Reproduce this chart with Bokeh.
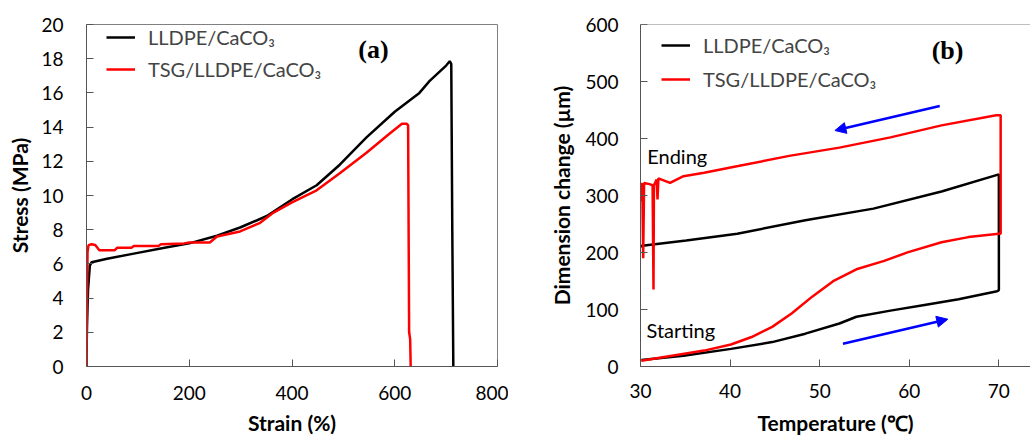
from bokeh.plotting import figure
from bokeh.layouts import row
from bokeh.models import (Legend, LegendItem, Label, Span, Arrow, NormalHead, Range1d)
from bokeh.embed import file_html
from bokeh.resources import INLINE

# ---------------- Panel (a): tensile curves ----------------
strain_lldpe = [0, 0, 1, 3, 6.5, 10, 40, 92, 157, 200, 254, 299, 351, 400, 448,
                493, 545, 600, 648, 668, 700, 707, 710, 712, 714]
stress_lldpe = [0, 0.6, 2.45, 4.5, 5.9, 6.1, 6.3, 6.6, 6.97, 7.2, 7.65, 8.13, 8.8,
                9.77, 10.6, 11.8, 13.4, 14.9, 16.0, 16.7, 17.6, 17.85, 17.7, 8.0, 0]

strain_tsg = [0, 1, 2, 4, 10, 17, 25, 55, 60, 88, 92, 140, 145, 190, 200, 240,
              254, 299, 338, 364, 400, 448, 493, 545, 589, 614, 623, 626, 628, 630, 631]
stress_tsg = [0, 3.8, 6.7, 7.1, 7.15, 7.1, 6.8, 6.8, 6.95, 6.95, 7.05, 7.05, 7.15,
              7.2, 7.25, 7.25, 7.6, 7.9, 8.4, 9.0, 9.6, 10.3, 11.3, 12.5, 13.6, 14.2,
              14.2, 14.1, 2.0, 1.6, 0]

strain_ticks = [0, 200, 400, 600, 800]
stress_ticks = [0, 2, 4, 6, 8, 10, 12, 14, 16, 18, 20]

# ---------------- Panel (b): dimension change ----------------
temp_lldpe = [30.1, 34.8, 40.1, 44.7, 48.4, 52.2, 54.1, 57.9, 61.7, 65.5, 69.8, 70.0,
              70.0, 63.6, 56.0, 48.4, 40.8, 35.1, 30.2, 30.0]
dim_lldpe = [11.3, 19, 30.9, 42.8, 57.6, 75.4, 87.3, 98, 108, 118, 132, 134,
             337, 307, 277, 256.5, 233, 221, 212, 210]

temp_tsg = [30.1, 37.1, 40.1, 42.4, 44.7, 46.9, 49.2, 51.5, 54.1, 57.2, 59.8, 63.6,
            66.6, 70.0, 70.2, 70.2, 69.7, 63.6, 57.9, 52.2, 46.6, 40.9, 37.1, 34.8,
            33.3, 32.0, 31.9, 31.8, 31.5, 31.45, 31.35, 31.0, 30.4, 30.3, 30.2, 30.05, 30.0]
dim_tsg = [10, 27.9, 38.6, 51.7, 69.5, 93.3, 123, 149.7, 170.5, 185.3, 200.2, 218,
           227, 232.8, 232.8, 440.8, 440.7, 423, 402, 384, 369.5, 351.6, 339.8, 333.8,
           322, 330, 293, 328, 318, 135, 318, 320, 322, 190, 322, 300, 290]

temp_ticks = [30, 40, 50, 60, 70, 80]
dim_ticks = [0, 100, 200, 300, 400, 500, 600]

# annotation positions (data units)
arrow_cool = (63.4, 457, 51.7, 414)
arrow_heat = (52.6, 39.8, 64.3, 83.0)

FONT = "Lato"
AX_COLOR = "#555555"
BOX_COLOR = "#808080"


def style_axis(ax, ticks):
    ax.ticker = ticks
    ax.major_tick_in = 7
    ax.major_tick_out = 0
    ax.minor_tick_line_color = None
    ax.axis_line_color = AX_COLOR
    ax.major_tick_line_color = AX_COLOR
    ax.major_label_text_font = FONT
    ax.major_label_text_font_size = "19px"
    ax.major_label_text_color = "#000000"
    ax.axis_label_text_font = FONT
    ax.axis_label_text_font_size = "21px"
    ax.axis_label_text_font_style = "bold"
    ax.axis_label_text_color = "#000000"


def make_legend(p, r1, r2, loc, spacing):
    leg = Legend(items=[LegendItem(label="LLDPE/CaCO\u2083", renderers=[r1]),
                        LegendItem(label="TSG/LLDPE/CaCO\u2083", renderers=[r2])],
                 location=loc, label_text_font=FONT, label_text_font_size="20px",
                 glyph_width=29, glyph_height=30, label_height=30, label_standoff=13,
                 spacing=spacing, padding=0, margin=0, border_line_color=None,
                 background_fill_alpha=0)
    p.add_layout(leg)


H = 437
TOP = 24
BOTTOM = 71

# ---------- figure (a) ----------
pa = figure(width=508, height=H, output_backend="svg", toolbar_location=None,
            x_range=Range1d(0, 800), y_range=Range1d(0, 20),
            min_border_left=86, min_border_right=11, min_border_top=TOP,
            min_border_bottom=BOTTOM)
pa.grid.visible = False
pa.outline_line_color = BOX_COLOR
style_axis(pa.xaxis[0], strain_ticks)
style_axis(pa.yaxis[0], stress_ticks)
pa.xaxis.axis_label = "Strain (%)"
pa.yaxis.axis_label = "Stress (MPa)"
pa.xaxis.major_label_standoff = 19
pa.xaxis.axis_label_standoff = 7
pa.yaxis.major_label_standoff = 23
pa.yaxis.axis_label_standoff = 6

ra1 = pa.line(strain_lldpe, stress_lldpe, line_color="black", line_width=2.5)
ra2 = pa.line(strain_tsg, stress_tsg, line_color="#ff0000", line_width=2.5)
make_legend(pa, ra1, ra2, (20, 282), 2)
pa.add_layout(Label(x=529, y=18.55, text="(a)", text_font="Liberation Serif",
                    text_font_style="bold", text_font_size="26px",
                    text_baseline="middle", text_align="left", text_color="#000000"))

# ---------- figure (b) ----------
pb = figure(width=522, height=H, output_backend="svg", toolbar_location=None,
            x_range=Range1d(30, 73.53), y_range=Range1d(0, 600),
            min_border_left=132, min_border_right=0, min_border_top=TOP,
            min_border_bottom=BOTTOM)
pb.grid.visible = False
pb.outline_line_color = None
style_axis(pb.xaxis[0], temp_ticks)
style_axis(pb.yaxis[0], dim_ticks)
pb.xaxis.axis_label = "Temperature (\u2103)"
pb.yaxis.axis_label = "Dimension change (\u00b5m)"
pb.xaxis.major_label_standoff = 17
pb.xaxis.axis_label_standoff = 9
pb.yaxis.major_label_standoff = 22
pb.yaxis.axis_label_standoff = 8
pb.add_layout(Span(location=600, dimension="width", line_color=BOX_COLOR, line_width=1))

rb1 = pb.line(temp_lldpe, dim_lldpe, line_color="black", line_width=2.5)
rb2 = pb.line(temp_tsg, dim_tsg, line_color="#ff0000", line_width=2.5)
make_legend(pb, rb1, rb2, (21, 272), 4)
pb.add_layout(Label(x=62.5, y=555, text="(b)", text_font="Liberation Serif",
                    text_font_style="bold", text_font_size="26px",
                    text_baseline="middle", text_align="left", text_color="#000000"))
pb.add_layout(Label(x=30.75, y=368.6, text="Ending", text_font=FONT,
                    text_font_size="20px", text_baseline="middle", text_align="left",
                    text_color="#000000"))
pb.add_layout(Label(x=30.67, y=64.7, text="Starting", text_font=FONT,
                    text_font_size="20px", text_baseline="middle", text_align="left",
                    text_color="#000000"))
for (xs, ys, xe, ye) in (arrow_cool, arrow_heat):
    pb.add_layout(Arrow(x_start=xs, y_start=ys, x_end=xe, y_end=ye,
                        line_color="#0000ff", line_width=2.5,
                        end=NormalHead(size=11, fill_color="#0000ff",
                                       line_color="#0000ff")))

layout = row(pa, pb)
open("out.html", "w").write(file_html(layout, INLINE))
